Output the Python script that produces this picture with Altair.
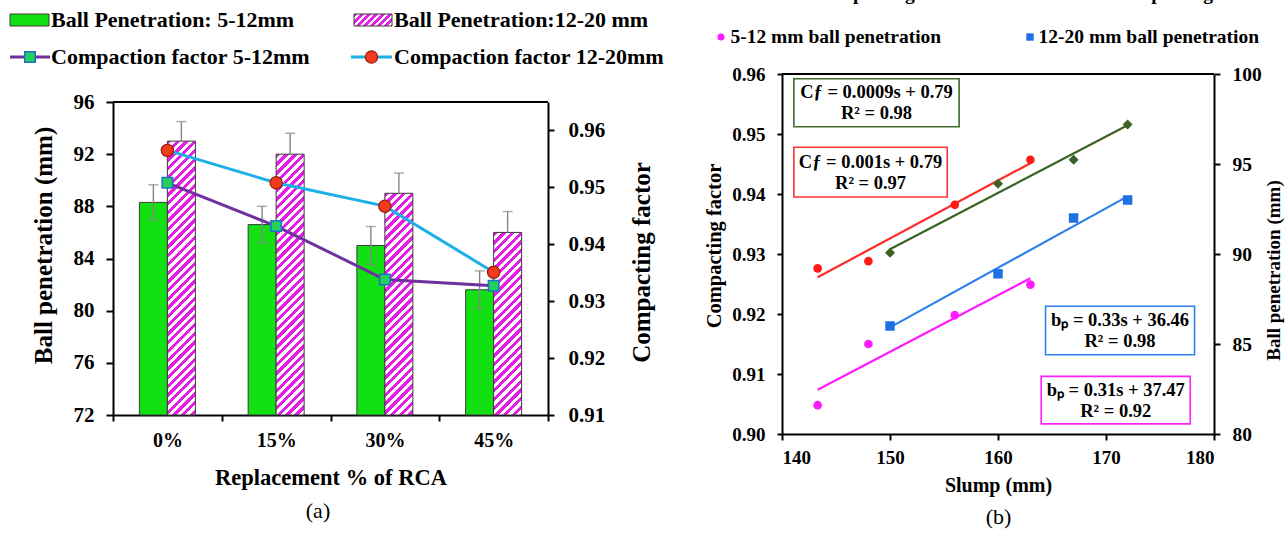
import altair as alt
import pandas as pd

FONT = "Liberation Serif, Times New Roman, serif"

# ---------------- panel (a) data ----------------
categories = ["0%", "15%", "30%", "45%"]
bp_5_12 = [88.3, 86.6, 85.0, 81.6]
bp_5_12_err = [1.35, 1.4, 1.45, 1.45]
bp_12_20 = [93.0, 92.0, 89.0, 86.0]
bp_12_20_err = [1.5, 1.6, 1.55, 1.6]
cf_5_12 = [0.9508, 0.9432, 0.9338, 0.9327]
cf_12_20 = [0.9565, 0.9508, 0.9467, 0.9351]
bp_ticks_a = [72, 76, 80, 84, 88, 92, 96]
cf_ticks_a = [0.91, 0.92, 0.93, 0.94, 0.95, 0.96]

# ---------------- panel (b) data ----------------
slump_1 = [143.3, 148.0, 156.0, 163.0]
slump_2 = [150.0, 160.0, 167.0, 172.0]
cf_12_20_b = [0.9276, 0.9288, 0.9382, 0.9457]
cf_5_12_b = [0.9302, 0.9417, 0.9457, 0.9516]
bp_5_12_b = [81.6, 85.0, 86.6, 88.3]
bp_12_20_b = [86.0, 88.9, 92.0, 93.0]
slump_ticks = [140, 150, 160, 170, 180]
cf_ticks_b = [0.90, 0.91, 0.92, 0.93, 0.94, 0.95, 0.96]
bp_ticks_b = [80, 85, 90, 95, 100]

# equation annotation boxes (data units)
eq_cf_labels = ["Cƒ = 0.0009s + 0.79\nR² = 0.98", "Cƒ = 0.001s + 0.79\nR² = 0.97"]
eq_cf_x1 = [141.1, 141.1]
eq_cf_x2 = [156.4, 155.3]
eq_cf_y1 = [0.9592, 0.9478]
eq_cf_y2 = [0.9512, 0.9395]
eq_cf_col = ["#3e6b2a", "#ff3030"]
eq_bp_labels = ["bₚ = 0.33s + 36.46\nR² = 0.98", "bₚ = 0.31s + 37.47\nR² = 0.92"]
eq_bp_x1 = [164.4, 164.0]
eq_bp_x2 = [178.2, 177.8]
eq_bp_y1 = [87.1, 83.2]
eq_bp_y2 = [84.4, 80.56]
eq_bp_col = ["#2f80e8", "#ff20ff"]

# ---------------- layout constants ----------------
W1, H1, TOP1 = 435, 341, 28
W2, H2 = 432, 360
GAP = 234

GREEN = "#12e012"
MAG = "#e61ee6"
ERRC = "#858585"
PURPLE = "#7030a0"
CYAN = "#1cb0e6"

common = dict(labelFont=FONT, labelFontWeight="bold", labelColor="black",
              titleFont=FONT, titleFontWeight="bold", titleColor="black",
              domainColor="black", domainWidth=2, tickColor="black", tickWidth=2,
              grid=False)


def hatch(w, h, period=8.7, frac=0.5):
    L = w + h
    stops = []
    k = 0
    while k * period < L:
        a = k * period / L
        b = min((k + frac) * period / L, 1.0)
        c = min((k + 1) * period / L, 1.0)
        stops += [alt.GradientStop(offset=round(a, 5), color=MAG),
                  alt.GradientStop(offset=round(b, 5), color=MAG),
                  alt.GradientStop(offset=round(b, 5), color="white"),
                  alt.GradientStop(offset=round(c, 5), color="white")]
        k += 1
    d = w * w + h * h
    return alt.LinearGradient(gradient="linear", stops=stops,
                              x1=0, y1=0, x2=w * L / d, y2=h * L / d)


one = pd.DataFrame({"a": [0]})


def vtext(label, x, y, size, weight="bold", align="left"):
    return alt.Chart(one).mark_text(text=label, font=FONT, fontSize=size, fontWeight=weight,
                                    align=align, baseline="middle", color="black").encode(
        x=alt.value(x), y=alt.value(y))


def vpoint(x, y, **kw):
    return alt.Chart(one).mark_point(filled=True, opacity=1, **kw).encode(x=alt.value(x), y=alt.value(y))


# =============== panel (a) ===============
df_a = pd.DataFrame({"cat": categories, "bp1": bp_5_12, "e1": bp_5_12_err,
                     "bp2": bp_12_20, "e2": bp_12_20_err, "cf1": cf_5_12, "cf2": cf_12_20})
df_a["lo1"] = df_a["bp1"] - df_a["e1"]
df_a["hi1"] = df_a["bp1"] + df_a["e1"]
df_a["hi2"] = df_a["bp2"] + df_a["e2"]

x_axis_a = alt.Axis(title="Replacement % of RCA", labelAngle=0, tickBand="extent", tickSize=6,
                    labelFontSize=20, labelPadding=9, titleFontSize=22.5, titleY=62,
                    titleBaseline="middle", **common)
xs_a = alt.Scale(domain=categories, paddingInner=0, paddingOuter=0)
x_a = alt.X("cat:N", sort=categories, scale=xs_a, axis=x_axis_a)

bp_scale_a = alt.Scale(domain=[72, 96], range=[H1, TOP1], nice=False, zero=False)
bp_axis_a = alt.Axis(title="Ball penetration (mm)", values=bp_ticks_a, tickSize=7, labelPadding=12,
                     labelFontSize=21, titleFontSize=25, titleAngle=270, titleX=-70, titleY=171,
                     titleAlign="center", titleBaseline="middle", **common)
cf_scale_a = alt.Scale(domain=[0.91, 0.965], range=[H1, TOP1], nice=False, zero=False)
cf_axis_a = alt.Axis(orient="right", title="Compacting factor", values=cf_ticks_a, format=".2f",
                     tickSize=6, labelPadding=14, labelFontSize=21, titleFontSize=25, titleAngle=270,
                     titleX=93, titleY=188, titleAlign="center", titleBaseline="middle", **common)


def ybp(f):
    return alt.Y(f, scale=bp_scale_a, axis=bp_axis_a)


def ycf(f):
    return alt.Y(f, scale=cf_scale_a, axis=cf_axis_a)


bars1 = alt.Chart(df_a).mark_bar(width=28, xOffset=-14, fill=GREEN, stroke="#3a3a3a", strokeWidth=1).encode(
    x=x_a, y=ybp("bp1:Q"), y2=alt.datum(72))

hatched = []
for i, c in enumerate(categories):
    h = (bp_12_20[i] - 72) / 24 * (H1 - TOP1)
    hatched.append(
        alt.Chart(df_a).transform_filter(alt.datum.cat == c).mark_bar(
            width=28, xOffset=14, fill=hatch(28, h), stroke="#3a3a3a", strokeWidth=1).encode(
            x=x_a, y=ybp("bp2:Q"), y2=alt.datum(72)))

err1 = alt.Chart(df_a).mark_rule(color=ERRC, strokeWidth=1.4, xOffset=-14).encode(
    x=x_a, y=ybp("lo1:Q"), y2="hi1:Q")
cap1lo = alt.Chart(df_a).mark_tick(color=ERRC, thickness=1.4, size=10, xOffset=-14, orient="horizontal").encode(
    x=x_a, y=ybp("lo1:Q"))
cap1hi = alt.Chart(df_a).mark_tick(color=ERRC, thickness=1.4, size=10, xOffset=-14, orient="horizontal").encode(
    x=x_a, y=ybp("hi1:Q"))
err2 = alt.Chart(df_a).mark_rule(color=ERRC, strokeWidth=1.4, xOffset=14).encode(
    x=x_a, y=ybp("bp2:Q"), y2="hi2:Q")
cap2hi = alt.Chart(df_a).mark_tick(color=ERRC, thickness=1.4, size=10, xOffset=14, orient="horizontal").encode(
    x=x_a, y=ybp("hi2:Q"))
top_a = alt.Chart(one).mark_rule(color="black", strokeWidth=2).encode(
    x=alt.value(0), x2=alt.value(W1), y=alt.YDatum(datum=96, scale=bp_scale_a, axis=bp_axis_a))

line1 = alt.Chart(df_a).mark_line(color=PURPLE, strokeWidth=3).encode(x=x_a, y=ycf("cf1:Q"))
pts1 = alt.Chart(df_a).mark_point(shape="square", filled=True, fill="#22d05a", stroke="#1f6fd0",
                                  strokeWidth=1.5, size=110, opacity=1).encode(x=x_a, y=ycf("cf1:Q"))
line2 = alt.Chart(df_a).mark_line(color=CYAN, strokeWidth=3).encode(x=x_a, y=ycf("cf2:Q"))
pts2 = alt.Chart(df_a).mark_point(shape="circle", filled=True, fill="#f03c1c", stroke="#9a1a0a",
                                  strokeWidth=1.2, size=150, opacity=1).encode(x=x_a, y=ycf("cf2:Q"))

leg_a = [
    alt.Chart(one).mark_rect(fill=GREEN, stroke="#3a3a3a", strokeWidth=1).encode(
        x=alt.value(-103), x2=alt.value(-64), y=alt.value(-60), y2=alt.value(-48)),
    vtext("Ball Penetration: 5-12mm", -62, -54, 22),
    alt.Chart(one).mark_rect(fill=hatch(38, 12, period=7), stroke="#3a3a3a", strokeWidth=1).encode(
        x=alt.value(241), x2=alt.value(279), y=alt.value(-60), y2=alt.value(-48)),
    vtext("Ball Penetration:12-20 mm", 281, -54, 22),
    alt.Chart(one).mark_rule(color=PURPLE, strokeWidth=3).encode(
        x=alt.value(-103), x2=alt.value(-63), y=alt.value(-17)),
    vpoint(-83, -17, shape="square", fill="#22d05a", stroke="#1f6fd0", strokeWidth=1.5, size=110),
    vtext("Compaction factor 5-12mm", -62, -17, 22),
    alt.Chart(one).mark_rule(color=CYAN, strokeWidth=3).encode(
        x=alt.value(238), x2=alt.value(279), y=alt.value(-17)),
    vpoint(258.5, -17, shape="circle", fill="#f03c1c", stroke="#9a1a0a", strokeWidth=1.2, size=150),
    vtext("Compaction factor 12-20mm", 281, -17, 22),
    vtext("(a)", 205, 437, 22, weight="normal", align="center"),
]

left_bp = alt.layer(bars1, *hatched, err1, cap1lo, cap1hi, err2, cap2hi, top_a)
left_cf = alt.layer(line1, pts1, line2, pts2, *leg_a)
left = alt.layer(left_bp, left_cf).resolve_scale(y="independent").properties(width=W1, height=H1)

# =============== panel (b) ===============
xs_b = alt.Scale(domain=[140, 180], nice=False, zero=False)
x_axis_b = alt.Axis(title="Slump (mm)", values=slump_ticks, tickSize=6, labelPadding=8, labelFontSize=19,
                    titleFontSize=20, titleY=51, titleBaseline="middle", **common)
cf_scale_b = alt.Scale(domain=[0.90, 0.96], nice=False, zero=False)
cf_axis_b = alt.Axis(title="Compacting factor", values=cf_ticks_b, format=".2f", tickSize=5, labelPadding=12,
                     labelFontSize=19, titleFontSize=20.5, titleAngle=270, titleX=-68, titleY=171.5,
                     titleAlign="center", titleBaseline="middle", **common)
bp_scale_b = alt.Scale(domain=[80, 100], nice=False, zero=False)
bp_axis_b = alt.Axis(orient="right", title="Ball penetration (mm)", values=bp_ticks_b, tickSize=6,
                     labelPadding=12, labelFontSize=19.5, titleFontSize=19, titleAngle=270, titleX=59,
                     titleY=196, titleAlign="center", titleBaseline="middle", **common)


def xb(f):
    return alt.X(f, scale=xs_b, axis=x_axis_b)


def ycfb(f):
    return alt.Y(f, scale=cf_scale_b, axis=cf_axis_b)


def ybpb(f):
    return alt.Y(f, scale=bp_scale_b, axis=bp_axis_b)


RED = "#ff1a1a"
DGREEN = "#3b6325"
BLUE = "#1f6fe5"
PINK = "#ff1aff"

df_red = pd.DataFrame({"s": slump_1, "v": cf_12_20_b})
df_grn = pd.DataFrame({"s": slump_2, "v": cf_5_12_b})
df_pnk = pd.DataFrame({"s": slump_1, "v": bp_5_12_b})
df_blu = pd.DataFrame({"s": slump_2, "v": bp_12_20_b})


def series(df, yfun, color, shape, size, line_color):
    ln = alt.Chart(df).transform_regression("s", "v").mark_line(color=line_color, strokeWidth=2.2).encode(
        x=xb("s:Q"), y=yfun("v:Q"))
    pt = alt.Chart(df).mark_point(shape=shape, filled=True, color=color, size=size, opacity=1).encode(
        x=xb("s:Q"), y=yfun("v:Q"))
    return [ln, pt]


df_box_cf = pd.DataFrame({"x1": eq_cf_x1, "x2": eq_cf_x2, "y1": eq_cf_y1, "y2": eq_cf_y2,
                          "col": eq_cf_col, "label": eq_cf_labels})
df_box_bp = pd.DataFrame({"x1": eq_bp_x1, "x2": eq_bp_x2, "y1": eq_bp_y1, "y2": eq_bp_y2,
                          "col": eq_bp_col, "label": eq_bp_labels})


def boxes(df, yfun):
    rect = alt.Chart(df).mark_rect(fill="white", strokeWidth=1.6).encode(
        x=xb("x1:Q"), x2="x2:Q", y=yfun("y1:Q"), y2="y2:Q", stroke=alt.Stroke("col:N", scale=None))
    txt = alt.Chart(df).transform_calculate(
        xc="(datum.x1 + datum.x2) / 2", yc="(datum.y1 + datum.y2) / 2").mark_text(
        font=FONT, fontSize=18.5, fontWeight="bold", lineBreak="\n", lineHeight=21, align="center",
        baseline="middle", dy=-10.5, color="black").encode(x=xb("xc:Q"), y=yfun("yc:Q"), text="label:N")
    return [rect, txt]


top_b = alt.Chart(one).mark_rule(color="black", strokeWidth=2).encode(
    x=alt.XDatum(datum=140, scale=xs_b, axis=x_axis_b), x2=alt.datum(180),
    y=alt.YDatum(datum=0.96, scale=cf_scale_b, axis=cf_axis_b))

leg_b = [
    vpoint(-61, -80, shape="circle", color=RED, size=50),
    vtext("12-20 mm compacting factor", -51.5, -80, 19.5),
    vpoint(248, -80, shape="diamond", color=DGREEN, size=60),
    vtext("5-12 mm compacting factor", 256.6, -80, 19.5),
    vpoint(-61, -37, shape="circle", color=PINK, size=50),
    vtext("5-12 mm ball penetration", -51.5, -37, 19.5),
    vpoint(248, -37, shape="square", color=BLUE, size=55),
    vtext("12-20 mm ball penetration", 256.6, -37, 19.5),
    vtext("(b)", 216.5, 443, 22, weight="normal", align="center"),
]

right_cf = alt.layer(top_b, *boxes(df_box_cf, ycfb),
                     *series(df_red, ycfb, RED, "circle", 75, "#ff2a2a"),
                     *series(df_grn, ycfb, DGREEN, "diamond", 100, DGREEN),
                     *leg_b)
right_bp = alt.layer(*boxes(df_box_bp, ybpb),
                     *series(df_blu, ybpb, BLUE, "square", 90, "#2f80e8"),
                     *series(df_pnk, ybpb, PINK, "circle", 75, PINK))
right = alt.layer(right_cf, right_bp).resolve_scale(y="independent").properties(width=W2, height=H2)

chart = alt.hconcat(left, right, spacing=GAP, bounds="flush").properties(
    padding={"left": 8, "top": -17, "right": 4, "bottom": 4}
).configure_view(stroke="transparent")

chart.save("out.html", embed_options={"renderer": "svg", "actions": False})
